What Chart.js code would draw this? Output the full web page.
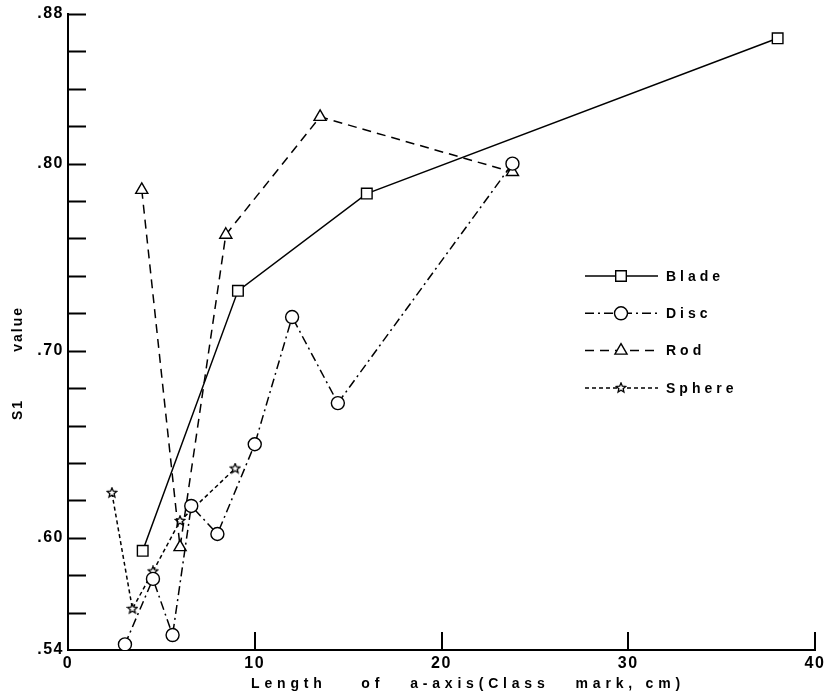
<!DOCTYPE html>
<html>
<head>
<meta charset="utf-8">
<script src="https://cdn.jsdelivr.net/npm/chart.js@4.4.1/dist/chart.umd.min.js"></script>
<style>
  html, body { margin: 0; padding: 0; background: #fff; }
  canvas { display: block; }
</style>
</head>
<body>
<canvas id="s1Chart" width="830" height="697"></canvas>
<script>
// Values
const bladeX  = [4.0, 9.1, 16.0, 38.0];
const bladeY  = [0.593, 0.732, 0.784, 0.867];
const discX   = [3.05, 4.55, 5.6, 6.6, 8.0, 10.0, 12.0, 14.45, 23.8];
const discY   = [0.543, 0.578, 0.548, 0.617, 0.602, 0.650, 0.718, 0.672, 0.800];
const rodX    = [3.95, 6.0, 8.45, 13.5, 23.8];
const rodY    = [0.786, 0.595, 0.762, 0.825, 0.7955];
const sphereX = [2.35, 3.45, 4.55, 6.0, 8.95];
const sphereY = [0.624, 0.562, 0.582, 0.609, 0.637];

const seriesNames = ['Blade', 'Disc', 'Rod', 'Sphere'];
const xTicks = [0, 10, 20, 30, 40];
const yTickLabels = [0.54, 0.60, 0.70, 0.80, 0.88];
const yMinorStep = 0.02;

const xTitle = 'Length    of   a-axis(Class   mark, cm)';
const yTitle = 'S1        value';

const FONT = "'Liberation Sans', Arial, sans-serif";

function toPoints(xs, ys) {
    return xs.map((x, i) => ({ x: x, y: ys[i] }));
}

// small hollow five-point star used as the Sphere marker
function makeStar(size) {
    const c = document.createElement('canvas');
    c.width = size; c.height = size;
    const g = c.getContext('2d');
    const cx = size / 2, cy = size / 2, ro = size / 2 - 1, ri = ro * 0.45;
    g.beginPath();
    for (let i = 0; i < 10; i++) {
        const r = i % 2 === 0 ? ro : ri;
        const a = -Math.PI / 2 + i * Math.PI / 5;
        const px = cx + r * Math.cos(a), py = cy + r * Math.sin(a);
        if (i === 0) g.moveTo(px, py); else g.lineTo(px, py);
    }
    g.closePath();
    g.fillStyle = '#fff';
    g.fill();
    g.lineWidth = 1.3;
    g.strokeStyle = '#000';
    g.stroke();
    return c;
}
const starImg = makeStar(12);

const baseSet = {
    borderColor: '#000',
    backgroundColor: '#fff',
    pointBackgroundColor: '#fff',
    pointBorderColor: '#000',
    pointBorderWidth: 1.4,
    borderWidth: 1.5,
    tension: 0,
    fill: false
};

const datasets = [
    { ...baseSet, label: seriesNames[0], data: toPoints(bladeX, bladeY),
      borderDash: [], pointStyle: 'rect', pointRadius: 7.5 },
    { ...baseSet, label: seriesNames[1], data: toPoints(discX, discY),
      borderDash: [9, 4, 2, 4], pointStyle: 'circle', pointRadius: 6.5 },
    { ...baseSet, label: seriesNames[2], data: toPoints(rodX, rodY),
      borderDash: [9, 6], pointStyle: 'triangle', pointRadius: 7 },
    { ...baseSet, label: seriesNames[3], data: toPoints(sphereX, sphereY),
      borderDash: [4, 3], pointStyle: starImg, pointRadius: 6 }
];

// inward tick marks, axis titles and the legend box
const decorPlugin = {
    id: 'decor',
    beforeDraw(chart) {
        // the scanned figure uses widely tracked lettering
        chart.ctx.letterSpacing = '1.5px';
    },
    beforeDatasetsDraw(chart) {
        const ctx = chart.ctx;
        const xs = chart.scales.x, ys = chart.scales.y;
        const area = chart.chartArea;
        const tickLen = 18;
        ctx.save();
        ctx.strokeStyle = '#000';
        ctx.lineWidth = 2;
        ctx.beginPath();
        for (let v = ys.min + yMinorStep; v <= ys.max + 1e-9; v += yMinorStep) {
            const py = Math.round(ys.getPixelForValue(v)) + 0.5;
            ctx.moveTo(area.left, py);
            ctx.lineTo(area.left + tickLen, py);
        }
        xTicks.forEach(v => {
            if (v === xs.min) return;
            const px = Math.round(xs.getPixelForValue(v));
            ctx.moveTo(px, area.bottom);
            ctx.lineTo(px, area.bottom - tickLen);
        });
        ctx.stroke();
        ctx.restore();
    },
    afterDraw(chart) {
        const ctx = chart.ctx;
        ctx.save();
        ctx.fillStyle = '#000';
        ctx.font = 'bold 14px ' + FONT;
        ctx.textBaseline = 'middle';

        // x axis title
        ctx.letterSpacing = '4.8px';
        ctx.textAlign = 'center';
        ctx.fillText(xTitle, 468, 684);

        // y axis title
        ctx.save();
        ctx.translate(18, 363);
        ctx.rotate(-Math.PI / 2);
        ctx.letterSpacing = '2px';
        ctx.fillText(yTitle, 0, 0);
        ctx.restore();

        // legend
        const x0 = 585, x1 = 658, xm = 621, xt = 666;
        const rowTop = 276, rowGap = 37.3;
        chart.data.datasets.forEach((ds, i) => {
            const y = rowTop + i * rowGap;
            ctx.save();
            ctx.strokeStyle = '#000';
            ctx.lineWidth = ds.borderWidth;
            ctx.setLineDash(ds.borderDash || []);
            ctx.beginPath();
            ctx.moveTo(x0, y);
            ctx.lineTo(x1, y);
            ctx.stroke();
            ctx.restore();

            ctx.save();
            ctx.fillStyle = '#fff';
            ctx.strokeStyle = '#000';
            ctx.lineWidth = ds.pointBorderWidth;
            Chart.helpers.drawPoint(ctx, {
                pointStyle: ds.pointStyle,
                radius: ds.pointRadius,
                rotation: 0,
                borderWidth: ds.pointBorderWidth
            }, xm, y);
            ctx.restore();

            ctx.letterSpacing = '4px';
            ctx.textAlign = 'left';
            ctx.fillText(ds.label, xt, y + 1);
        });
        ctx.restore();
        ctx.letterSpacing = '0px';
    }
};

new Chart(document.getElementById('s1Chart').getContext('2d'), {
    type: 'line',
    data: { datasets: datasets },
    options: {
        responsive: false,
        animation: false,
        layout: { padding: { top: 14, right: 15, left: 0, bottom: 0 } },
        plugins: {
            legend: { display: false },
            tooltip: { enabled: false }
        },
        scales: {
            x: {
                type: 'linear',
                min: 0,
                max: 40,
                afterBuildTicks: scale => {
                    scale.ticks = xTicks.map(v => ({ value: v }));
                },
                afterFit: scale => { scale.height = 47; },
                grid: { display: false, drawTicks: false },
                border: { display: true, color: '#000', width: 2 },
                ticks: {
                    color: '#000',
                    padding: 4,
                    maxRotation: 0,
                    font: { family: FONT, size: 16, weight: 'bold' }
                }
            },
            y: {
                type: 'linear',
                min: 0.54,
                max: 0.88,
                afterBuildTicks: scale => {
                    scale.ticks = yTickLabels.map(v => ({ value: v }));
                },
                afterFit: scale => { scale.width = 68; },
                grid: { display: false, drawTicks: false },
                border: { display: true, color: '#000', width: 2 },
                ticks: {
                    color: '#000',
                    padding: 4,
                    font: { family: FONT, size: 16, weight: 'bold' },
                    callback: v => v.toFixed(2).replace(/^0/, '')
                }
            }
        }
    },
    plugins: [decorPlugin]
});
</script>
</body>
</html>
